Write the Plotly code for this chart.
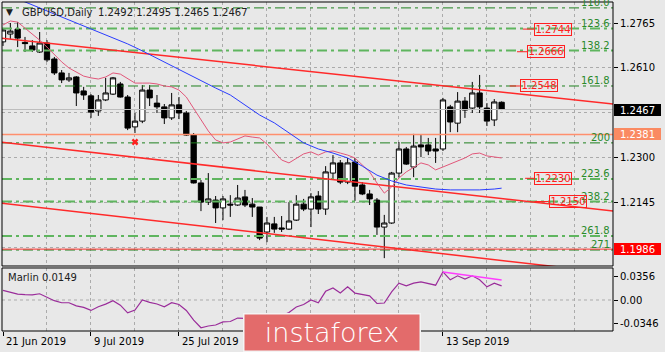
import plotly.graph_objects as go

# ---------------- data ----------------
bars = list(range(69))
opens = [1.2700, 1.2727, 1.2744, 1.2698, 1.2686, 1.2665, 1.2696, 1.2641, 1.2593, 1.2569,
         1.2579, 1.2531, 1.2514, 1.2462, 1.2500, 1.2520, 1.2555, 1.2510, 1.2407, 1.2427,
         1.2534, 1.2489, 1.2476, 1.2438, 1.2483, 1.2455, 1.2379, 1.2214, 1.2148, 1.2155,
         1.2128, 1.2141, 1.2138, 1.2166, 1.2141, 1.2131, 1.2045, 1.2073, 1.2059, 1.2055,
         1.2086, 1.2141, 1.2124, 1.2169, 1.2124, 1.2248, 1.2283, 1.2217, 1.2286, 1.2207,
         1.2176, 1.2155, 1.2062, 1.2076, 1.2248, 1.2331, 1.2269, 1.2345, 1.2345, 1.2331,
         1.2331, 1.2476, 1.2420, 1.2496, 1.2472, 1.2524, 1.2472, 1.2431, 1.2492]
highs = [1.2748, 1.2765, 1.2768, 1.2717, 1.2706, 1.2734, 1.2706, 1.2648, 1.2603, 1.2593,
         1.2582, 1.2545, 1.2520, 1.2517, 1.2576, 1.2579, 1.2562, 1.2517, 1.2455, 1.2551,
         1.2551, 1.2517, 1.2486, 1.2524, 1.2510, 1.2462, 1.2386, 1.2224, 1.2248, 1.2169,
         1.2169, 1.2172, 1.2207, 1.2190, 1.2162, 1.2131, 1.2097, 1.2097, 1.2100, 1.2148,
         1.2172, 1.2159, 1.2179, 1.2186, 1.2272, 1.2310, 1.2293, 1.2300, 1.2300, 1.2217,
         1.2190, 1.2162, 1.2104, 1.2252, 1.2355, 1.2338, 1.2383, 1.2379, 1.2369, 1.2369,
         1.2507, 1.2483, 1.2527, 1.2510, 1.2562, 1.2586, 1.2489, 1.2503, 1.2495]
lows = [1.2686, 1.2710, 1.2682, 1.2665, 1.2665, 1.2662, 1.2631, 1.2586, 1.2558, 1.2562,
        1.2479, 1.2500, 1.2438, 1.2445, 1.2496, 1.2517, 1.2508, 1.2396, 1.2386, 1.2420,
        1.2479, 1.2455, 1.2417, 1.2431, 1.2434, 1.2376, 1.2212, 1.2117, 1.2138, 1.2076,
        1.2086, 1.2097, 1.2135, 1.2131, 1.2097, 1.2017, 1.2010, 1.2042, 1.2045, 1.2052,
        1.2083, 1.2117, 1.2062, 1.2107, 1.2104, 1.2227, 1.2210, 1.2210, 1.2152, 1.2172,
        1.2138, 1.2035, 1.1955, 1.2073, 1.2234, 1.2276, 1.2234, 1.2303, 1.2310, 1.2283,
        1.2324, 1.2389, 1.2389, 1.2438, 1.2455, 1.2455, 1.2410, 1.2410, 1.2465]
closes = [1.2741, 1.2737, 1.2713, 1.2694, 1.2672, 1.2696, 1.2638, 1.2593, 1.2569, 1.2576,
          1.2524, 1.2517, 1.2458, 1.2500, 1.2524, 1.2576, 1.2510, 1.2403, 1.2427, 1.2534,
          1.2507, 1.2476, 1.2438, 1.2483, 1.2455, 1.2379, 1.2214, 1.2148, 1.2159, 1.2128,
          1.2159, 1.2138, 1.2162, 1.2138, 1.2131, 1.2024, 1.2076, 1.2055, 1.2055, 1.2083,
          1.2141, 1.2124, 1.2166, 1.2124, 1.2252, 1.2283, 1.2217, 1.2283, 1.2203, 1.2176,
          1.2159, 1.2062, 1.2076, 1.2248, 1.2331, 1.2279, 1.2341, 1.2338, 1.2324, 1.2324,
          1.2500, 1.2424, 1.2496, 1.2465, 1.2524, 1.2476, 1.2427, 1.2493, 1.2467]

ma_fast = [1.2758, 1.2772, 1.2768, 1.2748, 1.2727, 1.2706, 1.2682, 1.2655, 1.2631, 1.2610,
           1.2596, 1.2582, 1.2576, 1.2572, 1.2579, 1.2593, 1.2589, 1.2572, 1.2558, 1.2558,
           1.2558, 1.2555, 1.2548, 1.2545, 1.2534, 1.2510, 1.2472, 1.2431, 1.2393, 1.2362,
           1.2352, 1.2355, 1.2366, 1.2376, 1.2372, 1.2369, 1.2348, 1.2321, 1.2293, 1.2283,
           1.2300, 1.2314, 1.2321, 1.2310, 1.2321, 1.2324, 1.2317, 1.2310, 1.2300, 1.2276,
           1.2252, 1.2214, 1.2179, 1.2200, 1.2231, 1.2252, 1.2269, 1.2283, 1.2276, 1.2259,
           1.2269, 1.2279, 1.2290, 1.2300, 1.2314, 1.2317, 1.2307, 1.2303, 1.2300]

ma_slow_x = [2, 3, 5, 7, 9, 11, 13, 15, 17, 19, 21, 23, 25, 27, 29, 31, 33, 35, 37, 39,
             41, 43, 45, 47, 49, 51, 53, 55, 57, 59, 61, 63, 65, 67, 68]
ma_slow_y = [1.2848, 1.2837, 1.2817, 1.2796, 1.2775, 1.2755, 1.2734, 1.2713, 1.2693, 1.2669,
             1.2643, 1.2617, 1.2593, 1.2567, 1.2541, 1.2517, 1.2483, 1.2448, 1.2421, 1.2388,
             1.2352, 1.2331, 1.2317, 1.2300, 1.2272, 1.2241, 1.2221, 1.2207, 1.2200, 1.2193,
             1.2190, 1.2190, 1.2190, 1.2193, 1.2196]

marlin = [0.0144, 0.0120, 0.0088, 0.0080, 0.0077, 0.0093, 0.0040, -0.0010, -0.0041, -0.0041,
          -0.0088, -0.0110, -0.0155, -0.0100, -0.0062, -0.0010, -0.0077, -0.0191, -0.0150, 0.0000,
          -0.0036, -0.0060, -0.0100, -0.0041, -0.0067, -0.0155, -0.0300, -0.0413, -0.0387, -0.0372,
          -0.0325, -0.0320, -0.0268, -0.0273, -0.0258, -0.0320, -0.0300, -0.0255, -0.0235, -0.0185,
          -0.0103, -0.0067, 0.0000, -0.0041, 0.0129, 0.0180, 0.0103, 0.0196, 0.0103, 0.0077,
          0.0062, -0.0052, -0.0045, 0.0120, 0.0250, 0.0210, 0.0250, 0.0270, 0.0250, 0.0220,
          0.0420, 0.0300, 0.0360, 0.0310, 0.0360, 0.0300, 0.0195, 0.0250, 0.0210]
div_x = [60, 68]
div_y = [0.0417, 0.0298]

trend_upper_x = [-0.41, 83.2]
trend_upper_y = [1.2713, 1.2486]
trend_mid_x = [-0.41, 83.2]
trend_mid_y = [1.2355, 1.2117]
trend_low_x = [-0.41, 83.2]
trend_low_y = [1.2145, 1.1903]

fib_labels = ["110.0", "123.6", "138.2", "161.8", "200", "223.6", "238.2", "261.8", "271"]
fib_prices = [1.2817, 1.2746, 1.2670, 1.2548, 1.2352, 1.2228, 1.2150, 1.2031, 1.1983]

mark_prices = [1.2744, 1.2666, 1.2548, 1.2230, 1.2150]
cross_x = [18]
cross_y = [1.2355]

level_orange = 1.2381
level_red = 1.1986
bid_price = 1.2467

date_ticks = [0, 12, 24, 36, 48, 60]
# labels at 36 and 48 sit under the watermark in the reference and are not visible
date_labels = ["21 Jun 2019", "9 Jul 2019", "25 Jul 2019", "", "", "13 Sep 2019"]
price_ticks = [1.2765, 1.2610, 1.2455, 1.2300, 1.2145, 1.1990]
marlin_ticks = [0.0356, 0.0, -0.0346]
marlin_tick_text = ["0.0356", "0.00", "-0.0346"]
title_text = "GBPUSD,Daily"
ohlc_text = "1.2492 1.2495 1.2465 1.2467"
marlin_title = "Marlin 0.0149"
logo_text = "instaforex"

# ---------------- styles ----------------
FONT = "DejaVu Sans"
BG = "#e8e8e8"
GRID = "#ababab"
FIB_DARK = "#1f801f"
FIB_LIGHT = "#5fb55f"
fib_light_set = {"123.6", "138.2", "223.6", "238.2", "261.8"}
XR = [-0.136, 83.19]

fig = go.Figure()

# horizontal reference lines (below candles)
fig.add_trace(go.Scatter(x=XR, y=[bid_price, bid_price], mode="lines",
                         line=dict(color="#bdbdbd", width=1), hoverinfo="skip"))
for lab, p in zip(fib_labels, fib_prices):
    light = lab in fib_light_set
    fig.add_trace(go.Scatter(x=XR, y=[p, p], mode="lines",
                             line=dict(color=FIB_LIGHT if light else FIB_DARK,
                                       width=2 if light else 1,
                                       dash="10px,4px,3px,4px"),
                             hoverinfo="skip"))
fig.add_trace(go.Scatter(x=XR, y=[level_orange, level_orange], mode="lines",
                         line=dict(color="#ff8f6e", width=1.6), hoverinfo="skip"))
fig.add_trace(go.Scatter(x=XR, y=[level_red, level_red], mode="lines",
                         line=dict(color="#ff3030", width=1), hoverinfo="skip"))

# trend channel
for tx, ty in [(trend_upper_x, trend_upper_y), (trend_mid_x, trend_mid_y), (trend_low_x, trend_low_y)]:
    fig.add_trace(go.Scatter(x=tx, y=ty, mode="lines",
                             line=dict(color="#ff2a2a", width=1.5), hoverinfo="skip"))

# moving averages
fig.add_trace(go.Scatter(x=bars, y=ma_fast, mode="lines",
                         line=dict(color="#e2577a", width=1), hoverinfo="skip"))
fig.add_trace(go.Scatter(x=ma_slow_x, y=ma_slow_y, mode="lines",
                         line=dict(color="#2a3cff", width=1), hoverinfo="skip"))

# candles
fig.add_trace(go.Candlestick(x=bars, open=opens, high=highs, low=lows, close=closes,
                             increasing=dict(line=dict(color="black", width=1), fillcolor="white"),
                             decreasing=dict(line=dict(color="black", width=1), fillcolor="black"),
                             whiskerwidth=0, hoverinfo="skip"))

# cross marker
fig.add_trace(go.Scatter(x=cross_x, y=cross_y, mode="markers",
                         marker=dict(symbol="x", size=6, color="#ff2020", line=dict(width=0)),
                         hoverinfo="skip"))

# short red lines to price marks
mark_pos = [(70.9, 72.4), (70.1, 71.5), (69.1, 70.5), (71.2, 72.4), (72.5, 74.4)]
for p, (a, b) in zip(mark_prices, mark_pos):
    fig.add_trace(go.Scatter(x=[a, b], y=[p, p], mode="lines",
                             line=dict(color="#ff2020", width=1), hoverinfo="skip"))

# Marlin panel
fig.add_trace(go.Scatter(x=XR, y=[0, 0], mode="lines", yaxis="y2",
                         line=dict(color=GRID, width=1, dash="3px,3px"), hoverinfo="skip"))
fig.add_trace(go.Scatter(x=bars, y=marlin, mode="lines", yaxis="y2",
                         line=dict(color="#9a2c9a", width=1.2), hoverinfo="skip"))
fig.add_trace(go.Scatter(x=div_x, y=div_y, mode="lines", yaxis="y2",
                         line=dict(color="#ff3cff", width=1.5), hoverinfo="skip"))

ann = []
# fib level texts
for lab, p in zip(fib_labels, fib_prices):
    ann.append(dict(x=1, xref="paper", y=p, yref="y", text=lab, showarrow=False,
                    xanchor="right", yanchor="bottom", xshift=-1, yshift=-2,
                    font=dict(family=FONT, size=10, color="#2a8a2a")))
# price marks boxes
box_left = [72.4, 71.5, 70.5, 72.4, 74.4]
for p, bl in zip(mark_prices, box_left):
    ann.append(dict(x=bl, xref="x", y=p, yref="y", text=f"{p:.4f}", showarrow=False,
                    xanchor="left", yanchor="middle", font=dict(family=FONT, size=10, color="#ff2020"),
                    bordercolor="#ff2020", borderwidth=1, borderpad=0, width=36, height=11))
# axis value boxes
for p, bg in [(bid_price, "black"), (level_orange, "#fa8a62"), (level_red, "#ff0000")]:
    ann.append(dict(x=1, xref="paper", y=p, yref="y", text=f"{p:.4f}", showarrow=False,
                    xanchor="left", yanchor="middle", xshift=1,
                    font=dict(family=FONT, size=10, color="white"),
                    bgcolor=bg, borderpad=0, borderwidth=0, width=47, height=12))
# date labels
for t, lab in zip(date_ticks, date_labels):
    if not lab:
        continue
    ann.append(dict(x=t, xref="x", y=-0.0304, yref="paper", text=lab, showarrow=False,
                    xanchor="left", yanchor="middle", xshift=1,
                    font=dict(family=FONT, size=10, color="black")))
# titles
ann.append(dict(x=0.0128, xref="paper", y=0.9696, yref="paper", text="▼", showarrow=False,
                xanchor="center", yanchor="middle", font=dict(family=FONT, size=9, color="#202020")))
ann.append(dict(x=0.0295, xref="paper", y=0.9696, yref="paper", text=title_text, showarrow=False,
                xanchor="left", yanchor="middle", font=dict(family=FONT, size=10, color="#202020")))
ann.append(dict(x=0.1539, xref="paper", y=0.9696, yref="paper", text=ohlc_text, showarrow=False,
                xanchor="left", yanchor="middle", font=dict(family=FONT, size=10, color="#202020")))
ann.append(dict(x=0.0066, xref="paper", y=0.1641, yref="paper", text=marlin_title, showarrow=False,
                xanchor="left", yanchor="middle", font=dict(family=FONT, size=10, color="#202020")))
# watermark
ann.append(dict(x=0.5401, xref="paper", y=-0.0046, yref="paper", text=logo_text, showarrow=False,
                xanchor="center", yanchor="middle", width=175, height=36,
                bgcolor="#e36b6b", bordercolor="#f4f4f4", borderwidth=1.5, borderpad=0,
                font=dict(family=FONT, size=27, color="white", weight=200)))

shapes = [
    dict(type="rect", xref="x domain", yref="y domain", x0=0, x1=1, y0=0, y1=1,
         line=dict(color="black", width=1), layer="above"),
    dict(type="rect", xref="x domain", yref="y2 domain", x0=0, x1=1, y0=0, y1=1,
         line=dict(color="black", width=1), layer="above"),
]

fig.update_layout(
    width=665, height=352,
    margin=dict(l=2, r=52, t=2, b=21),
    paper_bgcolor=BG, plot_bgcolor=BG,
    showlegend=False,
    boxgap=0.2, boxgroupgap=0.1,
    font=dict(family=FONT, size=10, color="black"),
    xaxis=dict(range=XR, anchor="y2", rangeslider=dict(visible=False),
               tickvals=date_ticks, ticktext=[""] * len(date_ticks), ticks="outside", ticklen=4,
               tickcolor="black", showgrid=True, gridcolor=GRID, griddash="3px,3px", gridwidth=1,
               minor=dict(tickvals=[6, 18, 30, 42, 54, 66, 72, 78], showgrid=True, gridcolor=GRID,
                          griddash="3px,3px", ticks=""),
               zeroline=False, showline=False),
    yaxis=dict(domain=[0.1976, 1], range=[1.192793, 1.283734], side="right", anchor="x",
               tickvals=price_ticks, ticktext=[f"{v:.4f}" for v in price_ticks],
               ticks="outside", ticklen=4, tickcolor="black",
               showgrid=True, gridcolor=GRID, griddash="3px,3px", zeroline=False,
               tickfont=dict(family=FONT, size=10, color="black")),
    yaxis2=dict(domain=[0, 0.1915], range=[-0.0461, 0.0476], side="right", anchor="x",
                tickvals=marlin_ticks, ticktext=marlin_tick_text,
                ticks="outside", ticklen=4, tickcolor="black",
                showgrid=False, zeroline=False,
                tickfont=dict(family=FONT, size=10, color="black")),
    annotations=ann,
    shapes=shapes,
)

fig.write_html("out.html")
